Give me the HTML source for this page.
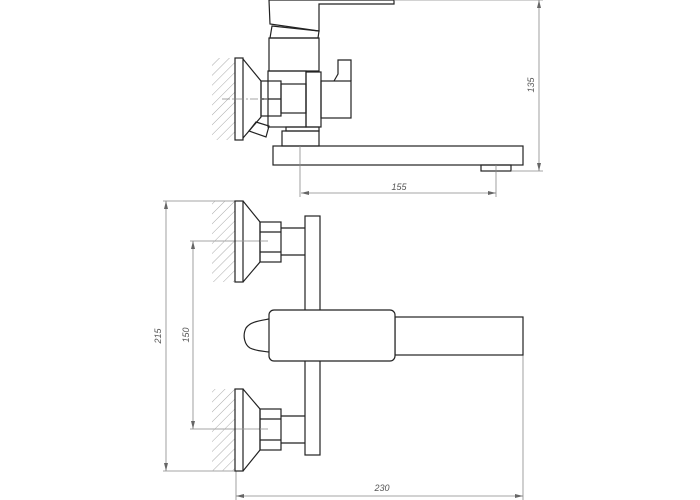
<!DOCTYPE html>
<html><head><style>html,body{margin:0;padding:0;background:#fff}svg{display:block}</style></head>
<body>
<svg width="700" height="500" viewBox="0 0 700 500" xmlns="http://www.w3.org/2000/svg" font-family="Liberation Sans, sans-serif">
<defs>
<pattern id="h" patternUnits="userSpaceOnUse" width="7" height="7" patternTransform="rotate(45)">
<line x1="0" y1="0" x2="0" y2="7" stroke="#aaa" stroke-width="1"/>
</pattern>
</defs>
<g fill="none" stroke="#222" stroke-width="1.2">
<!-- TOP VIEW -->
<rect x="212" y="58" width="23" height="82" fill="url(#h)" stroke="none"/>
<rect x="235" y="58" width="8" height="82"/>
<polyline points="243,59 261,81 261,117 243,138"/>
<rect x="261" y="81" width="20" height="35"/>
<line x1="261" y1="99" x2="281" y2="99"/>
<polygon points="269,0 394,0 394,4 319,4 319,31 270,24"/>
<polygon points="272,26 319,31 318,38 270,38"/>
<rect x="269" y="38" width="50" height="33"/>
<rect x="268" y="71" width="38" height="56"/>
<rect x="281" y="84" width="25" height="29"/>
<rect x="306" y="72" width="15" height="55"/>
<rect x="321" y="81" width="30" height="37"/>
<polyline points="334,81 338,74 338,60 351,60 351,81"/>
<polygon points="249,131 256,122 269,126 266,137"/>
<rect x="286" y="127" width="33" height="4"/>
<rect x="282" y="131" width="37" height="15"/>
<rect x="273" y="146" width="250" height="19"/>
<rect x="481" y="165" width="30" height="6"/>
</g>
<g stroke="#888" stroke-width="0.8" fill="none">
<line x1="394" y1="0" x2="543" y2="0"/>
<line x1="511" y1="171" x2="543" y2="171"/>
<line x1="539" y1="0" x2="539" y2="171"/>
<line x1="300" y1="146" x2="300" y2="197"/>
<line x1="496" y1="165" x2="496" y2="197"/>
<line x1="301" y1="193" x2="496" y2="193"/>
<line x1="222" y1="99" x2="268" y2="99" stroke-dasharray="8,2,2,2"/>
<!-- bottom dims -->
<line x1="163" y1="201" x2="236" y2="201"/>
<line x1="163" y1="471" x2="236" y2="471"/>
<line x1="166" y1="201" x2="166" y2="471"/>
<line x1="190" y1="241" x2="268" y2="241"/>
<line x1="190" y1="429" x2="268" y2="429"/>
<line x1="193" y1="241" x2="193" y2="429"/>
<line x1="236" y1="471" x2="236" y2="500"/>
<line x1="523" y1="355" x2="523" y2="500"/>
<line x1="236" y1="496" x2="523" y2="496"/>
</g>
<g fill="#666">
<polygon points="539,0 537,8 541,8"/><polygon points="539,171 537,163 541,163"/>
<polygon points="301,193 309,191 309,195"/><polygon points="496,193 488,191 488,195"/>
<polygon points="166,201 164,209 168,209"/><polygon points="166,471 164,463 168,463"/>
<polygon points="193,241 191,249 195,249"/><polygon points="193,429 191,421 195,421"/>
<polygon points="236,496 244,494 244,498"/><polygon points="523,496 515,494 515,498"/>
</g>
<g font-size="9" font-style="italic" fill="#555">
<text x="399" y="190" text-anchor="middle">155</text>
<text x="382" y="491" text-anchor="middle">230</text>
<text transform="translate(534,85) rotate(-90)" text-anchor="middle">135</text>
<text transform="translate(161,336) rotate(-90)" text-anchor="middle">215</text>
<text transform="translate(189,335) rotate(-90)" text-anchor="middle">150</text>
</g>
<g fill="none" stroke="#222" stroke-width="1.2">
<!-- FRONT VIEW top fitting -->
<rect x="212" y="201" width="23" height="81" fill="url(#h)" stroke="none"/>
<rect x="235" y="201" width="8" height="81"/>
<polyline points="243,201 260,222 260,262 243,282"/>
<rect x="260" y="222" width="21" height="40"/>
<line x1="260" y1="232" x2="281" y2="232"/><line x1="260" y1="252" x2="281" y2="252"/>
<line x1="281" y1="228" x2="305" y2="228"/><line x1="281" y1="255" x2="305" y2="255"/>
<!-- bottom fitting -->
<rect x="212" y="389" width="23" height="82" fill="url(#h)" stroke="none"/>
<rect x="235" y="389" width="8" height="82"/>
<polyline points="243,389 260,409 260,450 243,471"/>
<rect x="260" y="409" width="21" height="41"/>
<line x1="260" y1="419" x2="281" y2="419"/><line x1="260" y1="440" x2="281" y2="440"/>
<line x1="281" y1="416" x2="305" y2="416"/><line x1="281" y1="443" x2="305" y2="443"/>
<rect x="305" y="216" width="15" height="239" fill="#fff"/>
<rect x="395" y="317" width="128" height="38"/>
<rect x="269" y="310" width="126" height="51" rx="5" fill="#fff"/>
<path d="M269,319 C258,321 250,322 246,328 C242,336 245,345 250,348 C256,351 262,351 269,352"/>
</g>
<g stroke="#aaa" stroke-width="0.8" stroke-dasharray="8,2,2,2">
<line x1="236" y1="241" x2="266" y2="241"/><line x1="236" y1="429" x2="266" y2="429"/>
</g>
</svg>
</body></html>
